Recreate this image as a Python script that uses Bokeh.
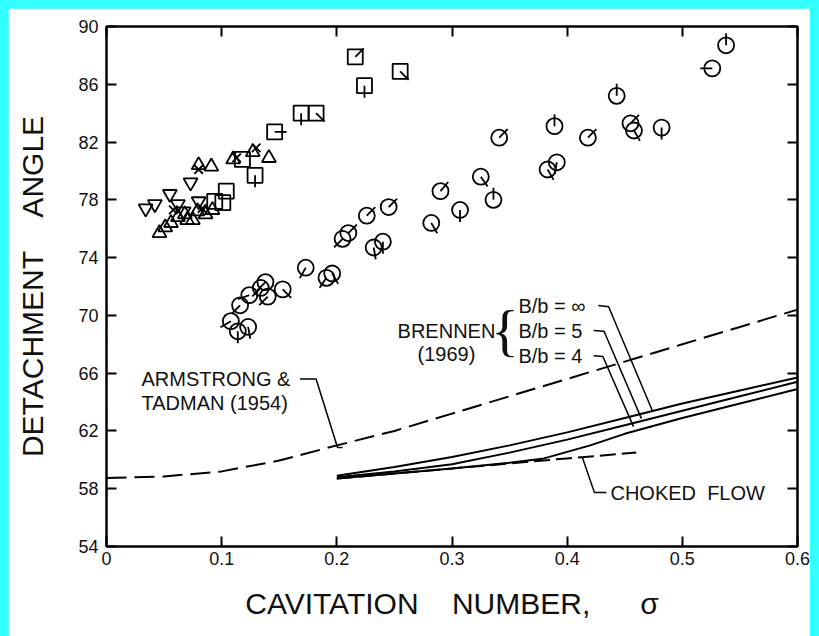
from bokeh.plotting import figure
from bokeh.models import (LinearAxis, FixedTicker, Range1d, Label,
                          CustomJSTickFormatter, GlobalInlineStyleSheet)
from bokeh.embed import file_html
from bokeh.resources import INLINE

# ---------------- data ----------------
x_ticks = [0, 0.1, 0.2, 0.3, 0.4, 0.5, 0.6]
x_tick_labels = ["0", "0.1", "0.2", "0.3", "0.4", "0.5", "0.6"]
y_ticks = [54, 58, 62, 66, 70, 74, 78, 82, 86, 90]

# circles: cavitation number, detachment angle, flag direction (deg)
circ_x = [0.108, 0.114, 0.123, 0.116, 0.124, 0.134, 0.138, 0.140, 0.153, 0.173,
          0.191, 0.196, 0.205, 0.210, 0.226, 0.245, 0.232, 0.240, 0.282, 0.290,
          0.307, 0.325, 0.336, 0.341, 0.383, 0.391, 0.389, 0.418, 0.443, 0.455,
          0.458, 0.482, 0.526, 0.538]
circ_y = [69.6, 68.9, 69.2, 70.7, 71.4, 71.9, 72.3, 71.3, 71.8, 73.3,
          72.6, 72.9, 75.3, 75.7, 76.9, 77.5, 74.7, 75.1, 76.4, 78.6,
          77.3, 79.6, 78.0, 82.3, 80.1, 80.6, 83.1, 82.3, 85.2, 83.3,
          82.8, 83.0, 87.1, 88.7]
circ_flag = [210, 270, 280, 225, 200, 225, 225, 225, 315, 240,
             235, 300, 225, 45, 45, 45, 280, 270, 300, 50,
             270, 305, 90, 45, 300, 260, 90, 45, 90, 45,
             300, 270, 180, 90]

sq_x = [0.216, 0.224, 0.255, 0.169, 0.182, 0.146, 0.129, 0.104, 0.101, 0.094, 0.118]
sq_y = [87.9, 85.9, 86.9, 84.0, 84.0, 82.7, 79.7, 78.6, 77.8, 77.9, 80.8]
sq_flag = [45, 270, 315, 270, 315, 0, 270, None, None, None, None]

tri_x = [0.046, 0.051, 0.056, 0.062, 0.068, 0.075, 0.079, 0.086, 0.092, 0.080,
         0.091, 0.110, 0.127, 0.141, 0.070]
tri_y = [75.7, 76.1, 76.4, 76.8, 77.0, 76.6, 77.2, 77.0, 77.3, 80.4,
         80.3, 80.8, 81.3, 80.9, 76.6]

inv_x = [0.034, 0.042, 0.055, 0.062, 0.073, 0.080, 0.067]
inv_y = [77.4, 77.7, 78.4, 77.7, 79.2, 77.9, 77.2]

xm_x = [0.080, 0.113, 0.130, 0.058, 0.083]
xm_y = [80.1, 80.9, 81.6, 77.3, 77.4]

# theory curves
arm_x = [0.0, 0.05, 0.1, 0.15, 0.2, 0.25, 0.3, 0.35, 0.4, 0.45, 0.5, 0.55, 0.6]
arm_y = [58.75, 58.85, 59.2, 59.95, 61.0, 62.0, 63.2, 64.4, 65.6, 66.8, 68.0, 69.2, 70.4]

br_x = [0.2, 0.25, 0.3, 0.35, 0.4, 0.45, 0.5, 0.55, 0.6]
br_inf = [58.9, 59.5, 60.2, 61.0, 61.9, 62.9, 63.9, 64.8, 65.7]
br_5 = [58.8, 59.2, 59.7, 60.5, 61.4, 62.4, 63.4, 64.4, 65.4]
br4_x = [0.2, 0.25, 0.3, 0.35, 0.38, 0.42, 0.45, 0.5, 0.55, 0.6]
br_4 = [58.7, 59.05, 59.4, 59.8, 60.1, 61.0, 61.8, 62.9, 63.9, 64.9]

chk_x = [0.2, 0.3, 0.4, 0.46]
chk_y = [58.7, 59.4, 60.1, 60.5]

# ---------------- figure ----------------
p = figure(width=802, height=628, x_range=Range1d(0, 0.6), y_range=Range1d(54, 90),
           output_backend="svg", toolbar_location=None,
           min_border_left=98, min_border_top=18, min_border_right=13, min_border_bottom=90,
           background_fill_color="white", border_fill_color="white")
p.stylesheets = [GlobalInlineStyleSheet(css=(
    "html { background: #33ffff !important; }"
    "body { background: #33ffff !important; margin: 0 !important;"
    " padding: 8px 0 0 8px !important; overflow: hidden !important; }"))]
p.grid.visible = False
p.outline_line_color = "black"
p.outline_line_width = 2

FONT = "Liberation Sans"
for ax in p.xaxis:
    ax.ticker = FixedTicker(ticks=x_ticks)
    ax.major_label_overrides = {t: l for t, l in zip(x_ticks, x_tick_labels)}
    ax.axis_label = "CAVITATION\u00a0\u00a0\u00a0\u00a0NUMBER,\u00a0\u00a0\u00a0\u00a0\u00a0\u00a0σ"
for ax in p.yaxis:
    ax.ticker = FixedTicker(ticks=y_ticks)
    ax.axis_label = "DETACHMENT\u00a0\u00a0\u00a0\u00a0ANGLE"

def style_axis(ax):
    ax.axis_line_color = "black"
    ax.axis_line_width = 2
    ax.major_tick_in = 10
    ax.major_tick_out = 0
    ax.major_tick_line_width = 2
    ax.minor_tick_line_color = None
    ax.major_label_text_font = FONT
    ax.major_label_text_font_size = "18px"
    ax.major_label_text_color = "#111111"
    ax.axis_label_text_font = FONT
    ax.axis_label_text_font_size = "30px"
    ax.axis_label_text_font_style = "normal"
    ax.axis_label_text_color = "#111111"

style_axis(p.xaxis[0])
style_axis(p.yaxis[0])
p.xaxis.major_label_standoff = 5
p.xaxis.axis_label_standoff = 19
p.yaxis.major_label_standoff = 8
p.yaxis.axis_label_standoff = 26

blank = CustomJSTickFormatter(code="return ''")
top = LinearAxis(ticker=FixedTicker(ticks=x_ticks), formatter=blank)
right = LinearAxis(ticker=FixedTicker(ticks=y_ticks), formatter=blank)
for ax in (top, right):
    style_axis(ax)
    ax.major_label_text_font_size = "0px"
    ax.major_label_standoff = 0
p.add_layout(top, "above")
p.add_layout(right, "right")

# ---------------- curves ----------------
p.line(arm_x, arm_y, line_color="black", line_width=2, line_dash="20 8")
p.line(br_x, br_inf, line_color="black", line_width=2)
p.line(br_x, br_5, line_color="black", line_width=2)
p.line(br4_x, br_4, line_color="black", line_width=2)
p.line(chk_x, chk_y, line_color="black", line_width=2, line_dash="16 6")

# ---------------- markers ----------------
MK = dict(fill_color=None, line_color="black", line_width=1.8)
p.scatter(circ_x, circ_y, marker="circle", size=16, **MK)
p.scatter(sq_x, sq_y, marker="square", size=15, **MK)
p.scatter(tri_x, tri_y, marker="triangle", size=14, **MK)
p.scatter(inv_x, inv_y, marker="inverted_triangle", size=14, **MK)
p.scatter(xm_x, xm_y, marker="x", size=12, **MK)

fx = circ_x + [x for x, f in zip(sq_x, sq_flag) if f is not None]
fy = circ_y + [y for y, f in zip(sq_y, sq_flag) if f is not None]
fa = circ_flag + [f for f in sq_flag if f is not None]
p.ray(x=fx, y=fy, length=12, length_units="screen", angle=fa, angle_units="deg",
      line_color="black", line_width=1.8)

# ---------------- annotations ----------------
def lab(x, y, t, align="left", size="20px", font=FONT):
    p.add_layout(Label(x=x, y=y, text=t, text_font=font, text_font_size=size,
                       text_align=align, text_baseline="middle", text_color="#111111"))

lab(0.0304, 65.62, "ARMSTRONG &")
lab(0.0304, 63.96, "TADMAN (1954)")
lab(0.2952, 68.95, "BRENNEN", align="center")
lab(0.2952, 67.30, "(1969)", align="center")
lab(0.3460, 68.95, "{", align="center", size="58px", font="Liberation Serif")
lab(0.3577, 70.68, "B/b = ∞")
lab(0.3577, 68.95, "B/b = 5")
lab(0.3577, 67.22, "B/b = 4")
lab(0.4376, 57.73, "CHOKED\u00a0\u00a0FLOW")

leaders = [
    ([0.168, 0.182, 0.2006, 0.205], [65.6, 65.6, 60.85, 60.85]),
    ([0.427, 0.436, 0.474], [70.68, 70.6, 63.4]),
    ([0.423, 0.432, 0.4645], [68.95, 68.9, 62.85]),
    ([0.423, 0.431, 0.4576], [67.2, 67.15, 62.3]),
    ([0.434, 0.4237, 0.4133], [57.73, 57.73, 60.15]),
]
for lx, ly in leaders:
    p.line(lx, ly, line_color="black", line_width=1.5)

open("out.html", "w").write(file_html(p, INLINE))
